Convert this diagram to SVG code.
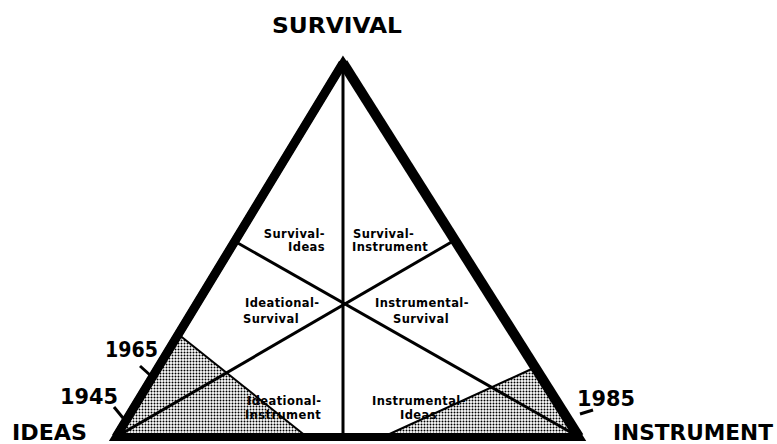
<svg xmlns="http://www.w3.org/2000/svg" width="777" height="444" viewBox="0 0 777 444">
  <defs>
    <pattern id="dots" width="3" height="3" patternUnits="userSpaceOnUse">
      <rect width="3" height="3" fill="#ffffff"/>
      <circle cx="1.5" cy="1.5" r="1.0" fill="#000000"/>
    </pattern>
    <style>
      .big { font-family: "DejaVu Sans", "Liberation Sans", sans-serif; font-weight: bold; fill: #000; }
      .small { font-family: "DejaVu Sans", "Liberation Sans", sans-serif; font-weight: bold; font-size: 11.5px; letter-spacing: 0.4px; fill: #000; }
      .edge { fill: none; stroke: #000; stroke-linejoin: miter; stroke-miterlimit: 10; }
      .inner { stroke: #000; stroke-width: 3; fill: none; }
      .bound { stroke: #000; stroke-width: 2; fill: none; }
      .tick { stroke: #000; stroke-width: 3; stroke-linecap: butt; }
      .shade { fill: url(#dots); }
    </style>
  </defs>
  <rect width="777" height="444" fill="#ffffff"/>

  <g id="shading">
    <polygon class="shade" points="178,334 307,437 116,437"/>
    <polygon class="shade" points="536,367 383,437 579,437"/>
  </g>

  <g id="region-labels">
    <g id="survival-ideas">
      <text class="small" x="325" y="238" text-anchor="end">Survival-</text>
      <text class="small" x="325" y="251" text-anchor="end">Ideas</text>
    </g>
    <g id="survival-instrument">
      <text class="small" x="353" y="238">Survival-</text>
      <text class="small" x="352" y="251">Instrument</text>
    </g>
    <g id="ideational-survival">
      <text class="small" x="245" y="307">Ideational-</text>
      <text class="small" x="243" y="323">Survival</text>
    </g>
    <g id="instrumental-survival">
      <text class="small" x="375" y="307">Instrumental-</text>
      <text class="small" x="393" y="323">Survival</text>
    </g>
    <g id="ideational-instrument">
      <text class="small" x="247" y="405">Ideational-</text>
      <text class="small" x="245" y="419">Instrument</text>
    </g>
    <g id="instrumental-ideas">
      <text class="small" x="372" y="405">Instrumental-</text>
      <text class="small" x="400" y="419">Ideas</text>
    </g>
  </g>

  <g id="connectors">
    <line class="inner" x1="343" y1="62" x2="343" y2="437"/>
    <line class="inner" x1="236" y1="242" x2="579" y2="437"/>
    <line class="inner" x1="455" y1="240" x2="116" y2="437"/>
    <line class="bound" x1="178" y1="334" x2="307" y2="437"/>
    <line class="bound" x1="536" y1="367" x2="383" y2="437"/>
  </g>

  <g id="triangle">
    <line class="edge" x1="343" y1="63" x2="116" y2="437" stroke-width="9"/>
    <line class="edge" x1="343" y1="63" x2="579" y2="437" stroke-width="10"/>
    <polygon class="edge" points="343,63 579,437 116,437" stroke-width="8"/>
  </g>

  <g id="node-survival">
    <text class="big" x="272" y="33" font-size="22" textLength="130" lengthAdjust="spacingAndGlyphs">SURVIVAL</text>
  </g>
  <g id="node-ideas">
    <text class="big" x="12" y="440" font-size="22" textLength="75" lengthAdjust="spacingAndGlyphs">IDEAS</text>
  </g>
  <g id="node-instrument">
    <text class="big" x="613" y="440" font-size="22" textLength="160" lengthAdjust="spacingAndGlyphs">INSTRUMENT</text>
  </g>

  <g id="year-1965">
    <text class="big" x="105" y="357" font-size="21" textLength="53" lengthAdjust="spacingAndGlyphs">1965</text>
    <line class="tick" x1="140" y1="366" x2="150" y2="375"/>
  </g>
  <g id="year-1945">
    <text class="big" x="60" y="404" font-size="21" textLength="58" lengthAdjust="spacingAndGlyphs">1945</text>
    <line class="tick" x1="114" y1="407" x2="123" y2="418"/>
  </g>
  <g id="year-1985">
    <text class="big" x="577" y="406" font-size="21" textLength="58" lengthAdjust="spacingAndGlyphs">1985</text>
    <line class="tick" x1="580" y1="414" x2="593" y2="410"/>
  </g>
</svg>
